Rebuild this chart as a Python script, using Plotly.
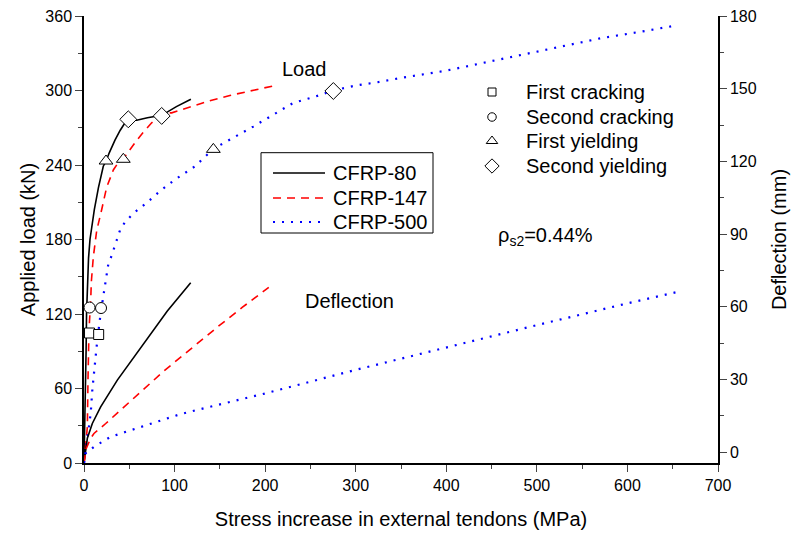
import plotly.graph_objects as go

# ---- data ----
cfrp80_load_x = [0, 1, 1.8, 2.3, 2.8, 3.7, 5, 6.6, 11.4, 16, 21.3, 24.3, 28, 34.2, 40, 45.3, 48.9, 53, 58.2, 70, 85.8, 102, 118]
cfrp80_load_y = [0, 30, 60, 90, 120, 147, 165, 180, 204, 222, 239, 243, 250, 260, 268, 274, 277, 276, 276, 278, 280, 287, 293]

cfrp147_load_x = [0, 2, 3.7, 4.4, 5.5, 7.4, 8.1, 10.3, 14, 19.5, 25, 32.4, 37, 43.4, 50, 56.3, 65, 74.7, 80, 85.8, 91, 96.8, 105, 117, 140, 161, 185, 211]
cfrp147_load_y = [0, 15, 29, 67, 107, 131, 146, 166, 187, 204, 222, 236, 241, 245, 252, 258, 266, 274, 277, 280, 282, 282, 284, 287, 292, 296, 300, 304]

cfrp500_load_x = [0, 1.5, 3.7, 7.4, 9.2, 12, 14.7, 18.4, 24, 26.8, 30.5, 36, 40, 45.3, 54.4, 70, 83.9, 100, 122.6, 142.8, 165, 187, 231, 255, 275, 300, 327, 349, 400, 459, 520, 570, 620, 651]
cfrp500_load_y = [0, 8, 18.5, 40, 59, 80, 99, 120.6, 146, 160, 167, 180, 188, 194, 201, 210, 219, 228, 239, 253, 262, 271, 290, 295, 300, 304, 307, 310, 316, 325, 334, 342, 348, 352]

cfrp80_defl_x = [0, 0.8, 1.8, 3.7, 9.2, 18.4, 36.8, 55.2, 73.6, 92, 117.8]
cfrp80_defl_y = [-4.5, -2, 2.2, 5.7, 11.8, 18.7, 29.7, 39.3, 48.8, 58.2, 69.9]

cfrp147_defl_x = [0, 1, 2.5, 7.4, 11, 24, 40.5, 55.2, 69.9, 88.3, 106.8, 121.5, 147.6, 175, 204]
cfrp147_defl_y = [-4.5, -2, 1.5, 5.7, 7.7, 11.8, 17.3, 22.5, 27.5, 33.5, 39.2, 43.8, 51.7, 59.8, 68]

cfrp500_defl_x = [0, 1.8, 11, 20.2, 29.4, 49.7, 68.1, 88.3, 106.8, 127, 200, 298.5, 400, 500, 600, 654]
cfrp500_defl_y = [-4.5, -0.5, 2.2, 4.3, 6.3, 8.8, 11.1, 13.5, 15.7, 17.6, 24.2, 33.8, 43.3, 52.4, 61.4, 66]

first_cracking_x = [6.1, 16.2]
first_cracking_y = [104.7, 103.5]
second_cracking_x = [6.1, 18.8]
second_cracking_y = [125.2, 124.8]
first_yielding_x = [24.3, 43.4, 142.8]
first_yielding_y = [243.2, 244.6, 252.6]
second_yielding_x = [48.9, 85.8, 275.3]
second_yielding_y = [276.8, 279.5, 299.6]

series_names = ["CFRP-80", "CFRP-147", "CFRP-500"]
marker_names = ["First cracking", "Second cracking", "First yielding", "Second yielding"]
x_ticks = [0, 100, 200, 300, 400, 500, 600, 700]
y_ticks = [0, 60, 120, 180, 240, 300, 360]
y2_ticks = [0, 30, 60, 90, 120, 150, 180]

FONT = "Liberation Sans, Arial, Helvetica, sans-serif"

# plot area in pixels
L, R, T, B = 84, 718, 16, 463

styles = [
    dict(color="black", width=1.6, dash="solid"),
    dict(color="#ff0000", width=1.6, dash="8px,6px"),
    dict(color="#0000ff", width=2.2, dash="2px,7px"),
]

fig = go.Figure()

loads = [(cfrp80_load_x, cfrp80_load_y), (cfrp147_load_x, cfrp147_load_y), (cfrp500_load_x, cfrp500_load_y)]
defls = [(cfrp80_defl_x, cfrp80_defl_y), (cfrp147_defl_x, cfrp147_defl_y), (cfrp500_defl_x, cfrp500_defl_y)]

for name, (lx, ly), st in zip(series_names, loads, styles):
    fig.add_trace(go.Scatter(x=lx, y=ly, mode="lines", name=name, line=st, showlegend=False))
for name, (dx, dy), st in zip(series_names, defls, styles):
    fig.add_trace(go.Scatter(x=dx, y=dy, mode="lines", name=name, line=st,
                             yaxis="y2", showlegend=False))

markers = [
    (first_cracking_x, first_cracking_y, "square", 10, 8),
    (second_cracking_x, second_cracking_y, "circle", 11, 8.5),
    (first_yielding_x, first_yielding_y, "triangle-up", 12, 10),
    (second_yielding_x, second_yielding_y, "diamond", 13, 11),
]
for name, (mx, my, sym, sz, _) in zip(marker_names, markers):
    fig.add_trace(go.Scatter(x=mx, y=my, mode="markers", name=name,
                             marker=dict(symbol=sym, size=sz, color="white",
                                         line=dict(color="black", width=1)),
                             showlegend=False))

# ---- legends drawn on a pixel-coordinate overlay axis ----
leg_rows = [173, 198, 222]
for name, st, ry in zip(series_names, styles, leg_rows):
    fig.add_trace(go.Scatter(x=[273, 325], y=[ry, ry], mode="lines", line=st,
                             xaxis="x3", yaxis="y3", showlegend=False, hoverinfo="skip"))
    fig.add_annotation(x=331, y=ry, xref="x3", yref="y3", text=name, showarrow=False,
                       xanchor="left", yanchor="middle", font=dict(size=20))
fig.add_shape(type="rect", x0=261, x1=433, y0=152.7, y1=233, xref="x3", yref="y3",
              line=dict(color="black", width=1))

mk_rows = [92, 117, 141, 166]
for name, (mx, my, sym, sz, lsz), ry in zip(marker_names, markers, mk_rows):
    fig.add_trace(go.Scatter(x=[492], y=[ry], mode="markers", xaxis="x3", yaxis="y3",
                             marker=dict(symbol=sym, size=lsz, color="white",
                                         line=dict(color="black", width=1)),
                             showlegend=False, hoverinfo="skip"))
    fig.add_annotation(x=524, y=ry, xref="x3", yref="y3", text=name, showarrow=False,
                       xanchor="left", yanchor="middle", font=dict(size=20))

fig.add_annotation(x=304, y=69, xref="x3", yref="y3", text="Load", showarrow=False,
                   font=dict(size=20))
fig.add_annotation(x=349, y=301, xref="x3", yref="y3", text="Deflection", showarrow=False,
                   font=dict(size=20))
fig.add_annotation(x=496, y=236, xref="x3", yref="y3", text="ρ<sub>s2</sub>=0.44%", showarrow=False,
                   xanchor="left", yanchor="middle", font=dict(size=20))

fig.update_layout(
    width=793, height=536,
    margin=dict(l=L, r=793 - R, t=T, b=536 - B, autoexpand=False),
    paper_bgcolor="white", plot_bgcolor="white",
    font=dict(family=FONT, size=16, color="black"),
    showlegend=False,
    xaxis=dict(range=[0, 700], tickvals=x_ticks, ticks="outside", ticklen=7, tickwidth=1.2,
               showline=True, linewidth=2, linecolor="black", showgrid=False, zeroline=False,
               minor=dict(dtick=50, ticks="outside", ticklen=4, tickwidth=1.2, showgrid=False),
               title=dict(text="Stress increase in external tendons (MPa)", font=dict(size=20), standoff=19),
               tickfont=dict(size=16), automargin=False),
    yaxis=dict(range=[0, 360], tickvals=y_ticks, ticks="outside", ticklen=7, tickwidth=1.2,
               showline=True, linewidth=1.5, linecolor="black", showgrid=False, zeroline=False,
               minor=dict(dtick=30, ticks="outside", ticklen=4, tickwidth=1.2, showgrid=False),
               title=dict(text="Applied load (kN)", font=dict(size=20), standoff=4),
               tickfont=dict(size=16), automargin=False),
    yaxis2=dict(range=[-4.5, 180], tickvals=y2_ticks, overlaying="y", side="right",
                ticks="outside", ticklen=7, tickwidth=1.2,
                showline=True, linewidth=1.5, linecolor="black", showgrid=False, zeroline=False,
                minor=dict(dtick=15, ticks="outside", ticklen=4, tickwidth=1.2, showgrid=False),
                title=dict(text="Deflection (mm)", font=dict(size=20), standoff=16),
                tickfont=dict(size=16), automargin=False),
    xaxis3=dict(range=[L, R], overlaying="x", visible=False, fixedrange=True),
    yaxis3=dict(range=[B, T], overlaying="y", visible=False, fixedrange=True, anchor="x3"),
)

fig.write_html("out.html", config={"displayModeBar": False},
               post_script="document.body.style.margin='0';document.body.style.overflow='hidden';")
